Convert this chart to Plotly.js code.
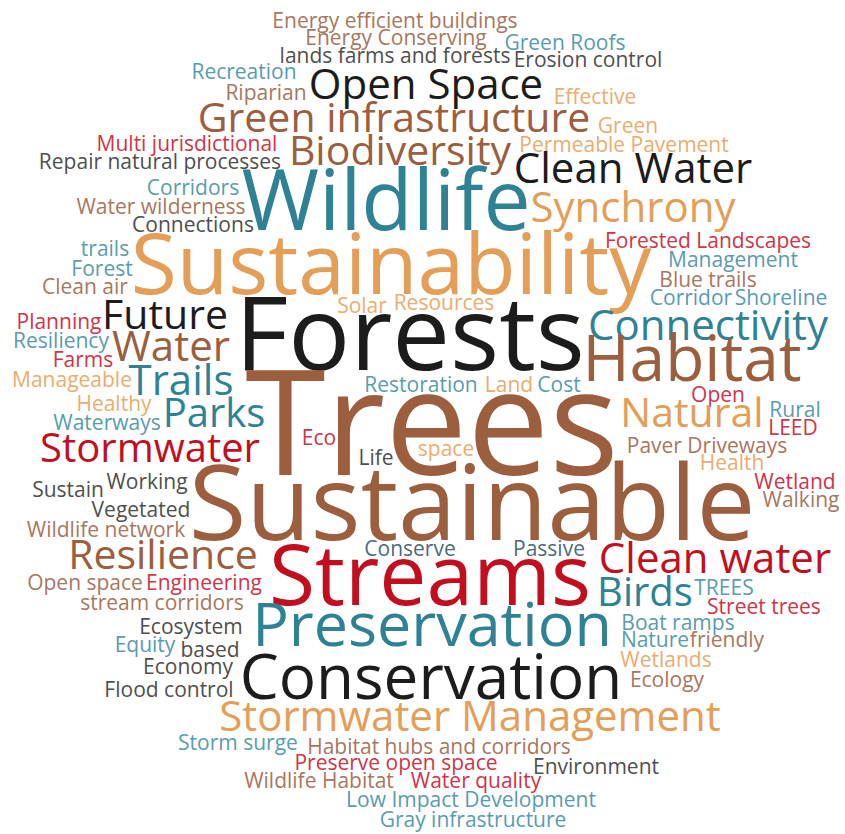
<!DOCTYPE html>
<html>
<head>
<meta charset="utf-8">
<script src="https://cdn.plot.ly/plotly-3.0.1.min.js"></script>
<style>
  html, body { margin: 0; padding: 0; background: #ffffff; }
  #chart { width: 845px; height: 834px; }
</style>
</head>
<body>
<div id="chart"></div>
<script>
// ---- Word cloud data ----
const words = [
  "Energy efficient buildings", "Energy Conserving", "Green Roofs", "lands farms and forests", "Erosion control",
  "Recreation", "Open Space", "Riparian", "Effective", "Green infrastructure",
  "Green", "Multi jurisdictional", "Biodiversity", "Permeable Pavement", "Repair natural processes",
  "Clean Water", "Corridors", "Wildlife", "Synchrony", "Water wilderness",
  "Connections", "Forested Landscapes", "trails", "Sustainability", "Management",
  "Forest", "Blue trails", "Clean air", "Corridor", "Shoreline",
  "Solar", "Resources", "Future", "Forests", "Connectivity",
  "Planning", "Resiliency", "Water", "Habitat", "Farms",
  "Manageable", "Trails", "Restoration", "Land", "Cost",
  "Trees", "Open", "Healthy", "Parks", "Natural",
  "Rural", "Waterways", "LEED", "Eco", "Stormwater",
  "space", "Paver Driveways", "Life", "Health", "Sustainable",
  "Working", "Sustain", "Wetland", "Walking", "Vegetated",
  "Wildlife network", "Resilience", "Conserve", "Passive", "Streams",
  "Clean water", "Open space", "Engineering", "Birds", "TREES",
  "stream corridors", "Street trees", "Preservation", "Ecosystem", "Boat ramps",
  "Equity", "based", "Nature", "friendly", "Economy",
  "Wetlands", "Conservation", "Flood control", "Ecology", "Stormwater Management",
  "Storm surge", "Habitat hubs and corridors", "Preserve open space", "Environment", "Wildlife Habitat",
  "Water quality", "Low Impact Development", "Gray infrastructure"
];

// word weight (rendered text size, px)
const weights = [
  21, 21, 21, 21, 21,
  21, 42, 21, 21, 41,
  21, 21, 41, 21, 21,
  42, 21, 84, 42, 21,
  21, 21, 21, 84, 21,
  21, 21, 21, 21, 21,
  21, 21, 41, 103, 42,
  21, 21, 42, 64, 21,
  21, 42, 21, 21, 21,
  146, 21, 21, 40, 41,
  21, 21, 21, 21, 40,
  21, 21, 21, 21, 105,
  21, 21, 21, 21, 21,
  21, 41, 21, 21, 84,
  42, 21, 21, 40, 21,
  21, 21, 61, 21, 21,
  21, 21, 21, 21, 21,
  21, 62, 21, 21, 42,
  21, 21, 21, 21, 21,
  21, 21, 21
];

// colour group of each word
const groups = [
  "brownS", "brownS", "tealS", "grayS", "grayS",
  "tealS", "dark", "brownS", "orangeS", "brown",
  "orangeS", "redS", "brown", "orangeS", "grayS",
  "dark", "tealS", "teal", "orange", "brownS",
  "grayS", "redS", "tealS", "orange", "tealS",
  "tealS", "brownS", "brownS", "tealS", "tealS",
  "orangeS", "orangeS", "dark", "dark", "teal",
  "redS", "tealS", "brown", "brown", "redS",
  "orangeS", "teal", "tealS", "orangeS", "tealS",
  "brown", "redS", "orangeS", "teal", "orange",
  "tealS", "tealS", "redS", "redS", "red",
  "orangeS", "brownS", "grayS", "orangeS", "brown",
  "grayS", "grayS", "redS", "brownS", "grayS",
  "brownS", "brown", "slateS", "slateS", "red",
  "red", "brownS", "redS", "teal", "tealS",
  "brownS", "redS", "teal", "grayS", "tealS",
  "tealS", "grayS", "tealS", "brownS", "grayS",
  "orangeS", "dark", "grayS", "brownS", "orange",
  "tealS", "brownS", "redS", "grayS", "brownS",
  "redS", "tealS", "tealS"
];

// ---- Placement of each word in the cloud (pixel layout, centre of the word) ----
const placeX = [
  395, 396, 565, 395, 588,
  244, 426, 266, 595, 394,
  628, 187, 400, 624, 160,
  633, 193, 386, 633, 161,
  193, 708, 105, 391, 733,
  102, 708, 85, 691, 781,
  362, 444, 165, 410, 708,
  59, 61, 171, 692, 83,
  72, 181, 421, 509, 559,
  432, 718, 114, 214, 692,
  795, 107, 793, 319, 150,
  446, 707, 376, 732, 472,
  147, 68, 795, 801, 141,
  106, 163, 410, 549, 430,
  715, 85, 204, 645, 724,
  162, 764, 432, 191, 678,
  145, 210, 655, 727, 188,
  666, 431, 169, 667, 470,
  238, 439, 396, 596, 319,
  476, 471, 473
];
const placeY = [
  21, 38, 43, 56, 60,
  72, 84, 93, 97, 118,
  126, 144, 151, 145, 162,
  168, 188, 201, 207, 207,
  225, 241, 249, 265, 260,
  269, 280, 287, 298, 298,
  306, 303, 315, 334, 325,
  322, 341, 346, 359, 360,
  380, 380, 385, 385, 385,
  424, 395, 404, 413, 413,
  410, 423, 428, 438, 448,
  449, 446, 458, 463, 503,
  482, 490, 482, 500, 510,
  530, 555, 549, 549, 576,
  558, 583, 583, 592, 588,
  603, 607, 625, 627, 623,
  645, 650, 640, 640, 667,
  660, 677, 690, 680, 716,
  743, 747, 763, 767, 781,
  781, 800, 820
];

const palette = {
  dark: "#1c1c1c",
  brown: "#9b5e3e",
  teal: "#2f8293",
  orange: "#e39e58",
  red: "#c20f1f",
  brownS: "#a8775f",
  tealS: "#5a9cad",
  orangeS: "#e9ad70",
  redS: "#cf3448",
  grayS: "#4f4f4f",
  slateS: "#4d6b78"
};

// Plotly's "middle" anchor sits a little above the cap-height centre; nudge down
const baselineNudge = 0.1;
const plotY = placeY.map((y, i) => y + baselineNudge * weights[i]);

const trace = {
  type: "scatter",
  mode: "text",
  x: placeX,
  y: plotY,
  text: words,
  textposition: "middle center",
  textfont: {
    family: "Open Sans, sans-serif",
    size: weights,
    color: groups.map(g => palette[g])
  },
  hoverinfo: "skip",
  showlegend: false,
  cliponaxis: false
};

const layout = {
  width: 845,
  height: 834,
  margin: { l: 0, r: 0, t: 0, b: 0, pad: 0 },
  paper_bgcolor: "#ffffff",
  plot_bgcolor: "#ffffff",
  xaxis: { range: [0, 845], visible: false, fixedrange: true },
  yaxis: { range: [834, 0], visible: false, fixedrange: true },
  showlegend: false,
  hovermode: false
};

Plotly.newPlot("chart", [trace], layout, { displayModeBar: false, staticPlot: true });
</script>
</body>
</html>
